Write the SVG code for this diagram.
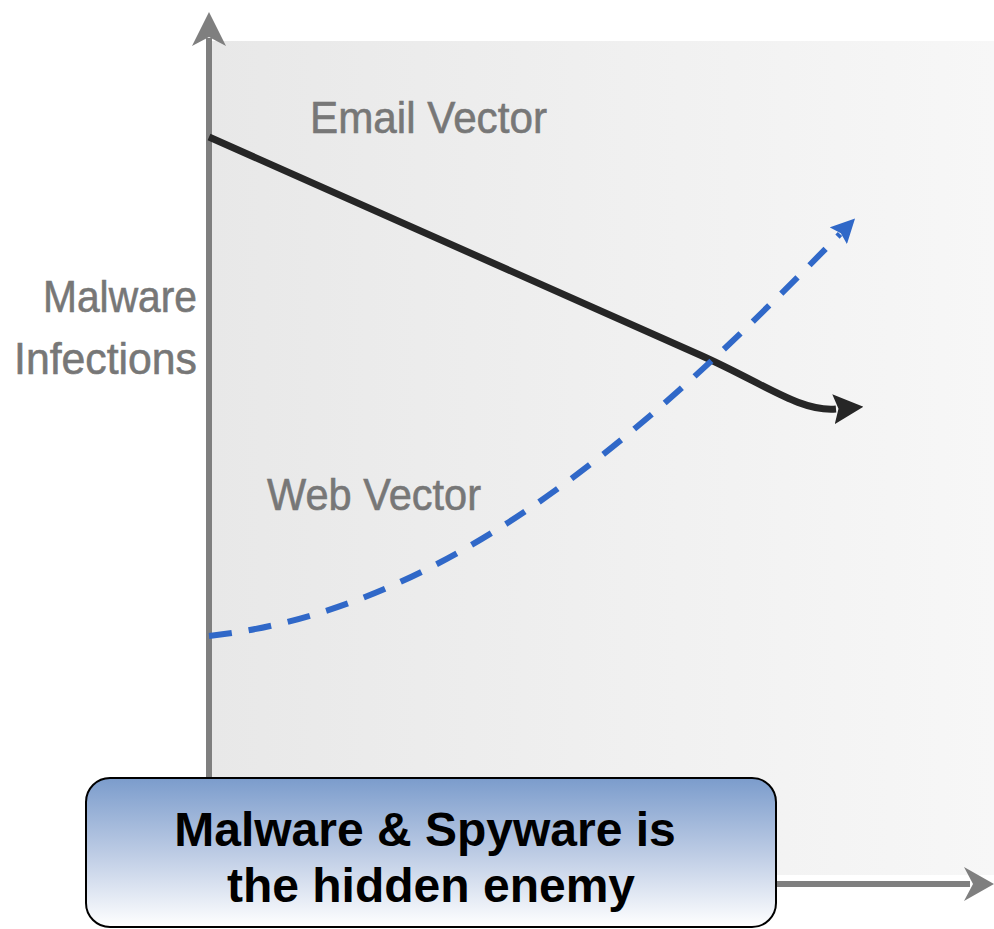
<svg xmlns="http://www.w3.org/2000/svg" width="994" height="929" viewBox="0 0 994 929">
<defs>
<linearGradient id="bg" x1="0" y1="0" x2="1" y2="0">
<stop offset="0" stop-color="#e8e8e8"/>
<stop offset="1" stop-color="#f7f7f7"/>
</linearGradient>
<linearGradient id="boxg" x1="0" y1="0" x2="0" y2="1">
<stop offset="0" stop-color="#7b9ccc"/>
<stop offset="0.5" stop-color="#bccbe4"/>
<stop offset="1" stop-color="#ffffff"/>
</linearGradient>
<marker id="blackArrow" markerUnits="userSpaceOnUse" markerWidth="30" markerHeight="30" viewBox="0 0 24 24" refX="2" refY="12" orient="auto">
<path d="M0,0 L24,12 L0,24 L4,12 Z" fill="#262626"/>
</marker>
<marker id="blueArrow" markerUnits="userSpaceOnUse" markerWidth="24" markerHeight="24" viewBox="0 0 20 20" refX="2" refY="10" orient="auto">
<path d="M0,0 L20,10 L0,20 L3,10 Z" fill="#3068c8"/>
</marker>
<style>
.axis{stroke:#7f7f7f;stroke-width:6;fill:none}
.axhead{fill:#7f7f7f}
.lbl{font-family:"Liberation Sans",Arial,sans-serif;fill:#777777;font-size:45px;stroke:#777777;stroke-width:0.6}
.title{font-family:"Liberation Sans",Arial,sans-serif;font-weight:bold;fill:#000;font-size:48px;text-anchor:middle}
</style>
</defs>
<rect x="210" y="41" width="784" height="834" fill="url(#bg)"/>
<g id="axes">
<line class="axis" x1="209" y1="790" x2="209" y2="38"/>
<path class="axhead" d="M209,12 L226,46 L209,37 L192,46 Z"/>
<line class="axis" x1="770" y1="884" x2="970" y2="884"/>
<path class="axhead" d="M994,884 L964,867 L973,884 L964,901 Z"/>
</g>
<g id="connectors">
<path d="M209,137 L700,355 C765,384 800,412 836,409" fill="none" stroke="#262626" stroke-width="7" marker-end="url(#blackArrow)"/>
<path d="M209,636 C450,610 650,430 840,234" fill="none" stroke="#3068c8" stroke-width="6" stroke-dasharray="23 17" marker-end="url(#blueArrow)"/>
</g>
<g id="labels">
<text class="lbl" x="310" y="133" textLength="237" lengthAdjust="spacingAndGlyphs">Email Vector</text>
<text class="lbl" x="43" y="312" textLength="154" lengthAdjust="spacingAndGlyphs">Malware</text>
<text class="lbl" x="14" y="374" textLength="183" lengthAdjust="spacingAndGlyphs">Infections</text>
<text class="lbl" x="267" y="510" textLength="214" lengthAdjust="spacingAndGlyphs">Web Vector</text>
</g>
<g id="callout">
<rect x="86" y="778" width="690" height="149" rx="24" ry="24" fill="url(#boxg)" stroke="#000" stroke-width="2"/>
<text class="title" x="425" y="846">Malware &amp; Spyware is</text>
<text class="title" x="431" y="902">the hidden enemy</text>
</g>
</svg>
